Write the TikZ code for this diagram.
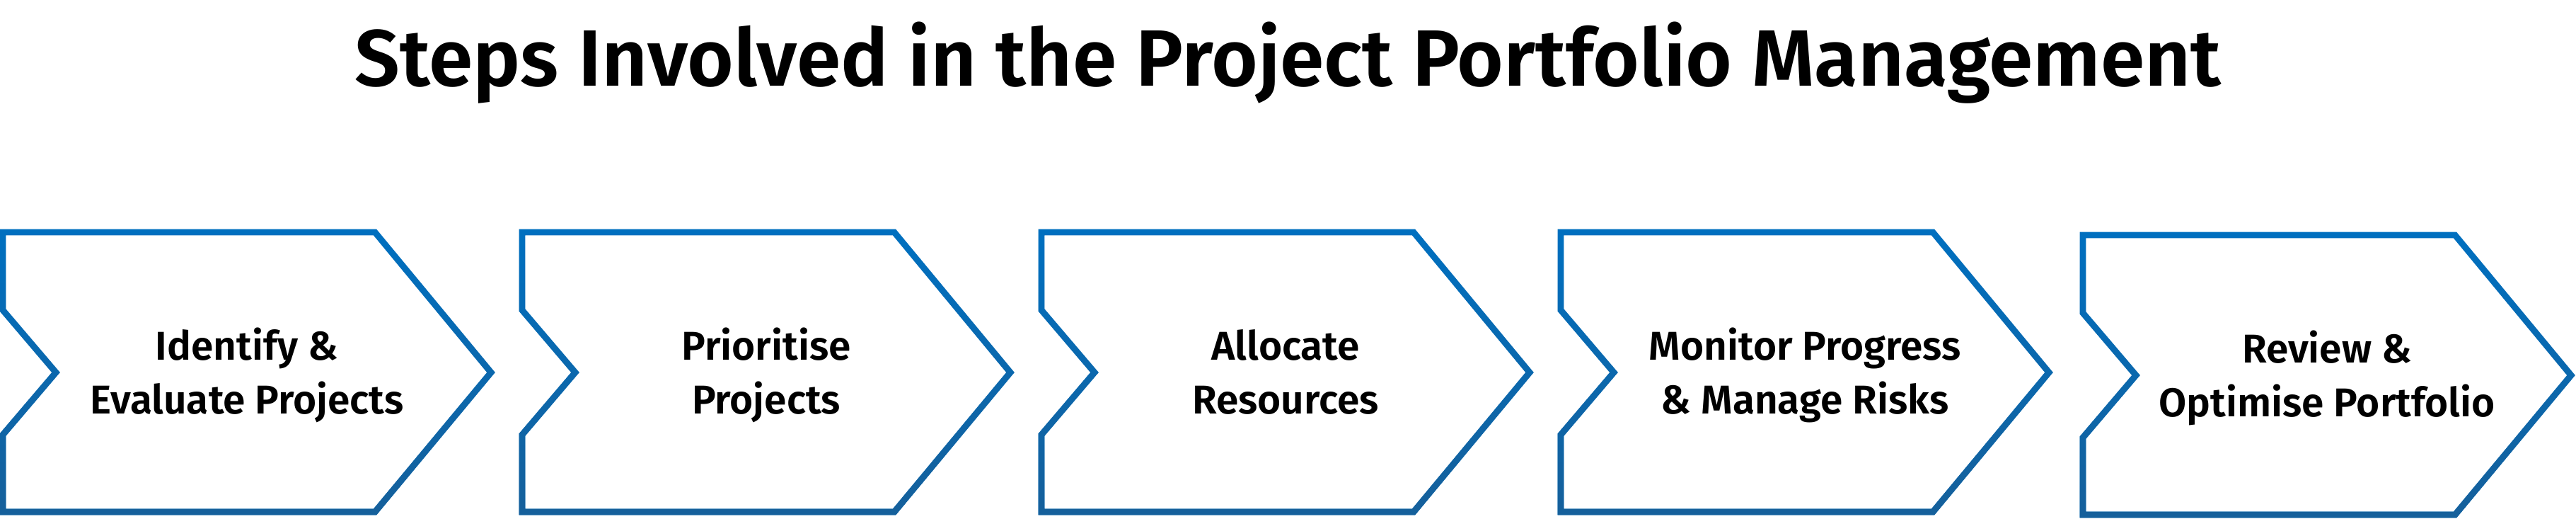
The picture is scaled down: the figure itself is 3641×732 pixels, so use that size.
\documentclass[tikz,border=0pt]{standalone}
\usepackage{fontspec}
\setmainfont{Fira Sans SemiBold}
\usetikzlibrary{fadings}
\definecolor{pp-blue}{RGB}     {  0, 112, 192}
\definecolor{pp-darkblue}{RGB} { 22,  96, 155}
\tikzfading[name=fade up, top color=transparent!100, bottom color=transparent!0]

\begin{document}
\begin{tikzpicture}[x=0.25pt, y=-0.25pt,
	chevron/.style={draw=pp-blue, line width=2.2pt, line join=miter},
	shadow/.style={draw=pp-darkblue, line width=2.2pt, line join=miter, path fading=fade up, fit fading=true},
	steptext/.style={anchor=base, align=center, font=\fontsize{14.2}{19}\selectfont, inner sep=0pt}
]
\useasboundingbox (0,0) rectangle (3641,732);

% title
\node[anchor=base, font=\fontsize{28.2}{34}\selectfont, inner sep=0pt] (title) at (1820.5,121)
	{Steps Involved in the Project Portfolio Management};

% chevrons: left edge, top edge
\foreach \l/\t in {4/328, 738/328, 1472/328, 2206/328, 2944/332} {
	\draw[chevron] (\l,\t) -- ++(526,0) -- ++(164,198) -- ++(-164,197) -- ++(-526,0)
		-- ++(0,-109) -- ++(75,-88) -- ++(-75,-88) -- cycle;
	\draw[shadow] (\l,\t) -- ++(526,0) -- ++(164,198) -- ++(-164,197) -- ++(-526,0)
		-- ++(0,-109) -- ++(75,-88) -- ++(-75,-88) -- cycle;
}

% step labels (base = last line)
\node[steptext] (identify)   at (349,584)  {Identify \&\\Evaluate Projects};
\node[steptext] (prioritise) at (1083,584) {Prioritise\\Projects};
\node[steptext] (allocate)   at (1817,584) {Allocate\\Resources};
\node[steptext] (monitor)    at (2551,584) {Monitor Progress\\\& Manage Risks};
\node[steptext] (review)     at (3289,588) {Review \&\\Optimise Portfolio};

\end{tikzpicture}
\end{document}
